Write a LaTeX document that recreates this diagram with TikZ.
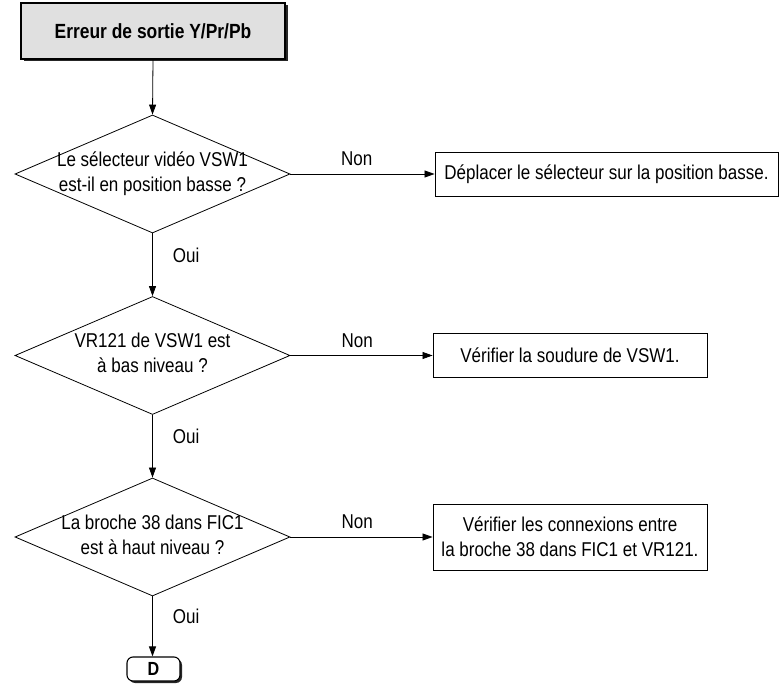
\documentclass[tikz,border=0pt]{standalone}
\usepackage{fontspec}
\setmainfont{Liberation Sans}[FakeStretch=0.85]
\usetikzlibrary{shapes.geometric,arrows.meta,shadows}
\newcommand{\dtext}[2]{\makebox[0pt][c]{\begin{tabular}{@{}c@{}}#1\\#2\end{tabular}}}
\begin{document}
\begin{tikzpicture}[x=1pt,y=-1pt,
  every node/.style={font=\fontsize{20}{25}\selectfont},
  flow/.style={draw,line width=0.8pt,-{Triangle[length=10pt,width=7pt]}},
  decision/.style={diamond,draw,line width=0.8pt,aspect=2.33,inner sep=0pt,minimum width=275pt,minimum height=118pt},
  actbox/.style={rectangle,draw,line width=0.9pt,align=center,inner sep=0pt},
  titlebox/.style={rectangle,draw,line width=1.1pt,fill=black!12,minimum width=264pt,minimum height=56pt,font=\fontsize{20.5}{25}\selectfont\bfseries,drop shadow={shadow xshift=2.5pt,shadow yshift=-2.5pt,fill=black,opacity=0.85}},
  endbox/.style={rectangle,rounded corners=6pt,draw,line width=1.1pt,fill=white,minimum width=53pt,minimum height=24pt,inner sep=0pt,font=\fontsize{19}{22}\selectfont\bfseries,drop shadow={shadow xshift=2pt,shadow yshift=-2pt,fill=black,opacity=0.85}},
  nonlbl/.style={inner sep=0pt,anchor=base,yshift=8pt},
  ouilbl/.style={inner sep=0pt,anchor=base west,xshift=20pt}]
\useasboundingbox (0,0) rectangle (780,700);
\node[titlebox] (t) at (153,31) {Erreur de sortie Y/Pr/Pb};
\node[decision] (d1) at (152.5,174) {\dtext{Le sélecteur vidéo VSW1}{est-il en position basse ?}};
\node[decision] (d2) at (152.5,355.5) {\dtext{VR121 de VSW1 est}{à bas niveau ?}};
\node[decision] (d3) at (152.5,537) {\dtext{La broche 38 dans FIC1}{est à haut niveau ?}};
\node[actbox,minimum width=343pt,minimum height=44pt] (b1) at (606.5,174) {Déplacer le sélecteur sur la position basse.};
\node[actbox,minimum width=274pt,minimum height=44pt] (b2) at (570,355.5) {Vérifier la soudure de VSW1.};
\node[actbox,minimum width=274pt,minimum height=66pt] (b3) at (570,537) {Vérifier les connexions entre\\la broche 38 dans FIC1 et VR121.};
\node[endbox] (e) at (153.5,669) {D};
\draw[flow] (t.south) -- (d1.north);
\draw[flow] (d1.south) -- node[ouilbl,pos=0.47]{Oui} (d2.north);
\draw[flow] (d2.south) -- node[ouilbl,pos=0.45]{Oui} (d3.north);
\draw[flow] (d3.south) -- node[ouilbl,pos=0.45]{Oui} (d3.south |- e.north);
\draw[flow] (d1.east) -- node[nonlbl,pos=0.46]{Non} (b1.west);
\draw[flow] (d2.east) -- node[nonlbl,pos=0.47]{Non} (b2.west);
\draw[flow] (d3.east) -- node[nonlbl,pos=0.47]{Non} (b3.west);
\end{tikzpicture}
\end{document}
